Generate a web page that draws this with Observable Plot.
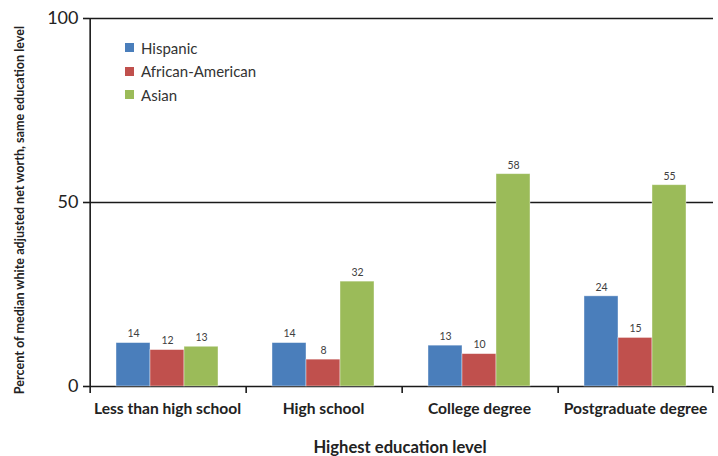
<!DOCTYPE html>
<html><head><meta charset="utf-8">
<script src="https://cdn.jsdelivr.net/npm/d3@7"></script>
<script src="https://cdn.jsdelivr.net/npm/@observablehq/plot@0.6"></script>
<style>
body{margin:0;background:#fff;font-family:Lato,"Open Sans",sans-serif}
#wrap{position:relative;width:718px;height:456px;overflow:hidden}
#legend{position:absolute;left:125px;top:36px;font-size:15px;color:#333}
#legend .row{height:23.5px;display:flex;align-items:center}
#legend .sw{width:9px;height:9px;margin-right:7px;display:inline-block}
#ytitle{position:absolute;left:19px;top:210px;transform:translate(-50%,-50%) rotate(-90deg);white-space:nowrap;font-size:12.6px;font-weight:bold;color:#222}
#xtitle{position:absolute;left:400px;top:447px;transform:translate(-50%,-50%);white-space:nowrap;font-size:16.6px;font-weight:bold;color:#222}
</style></head>
<body><div id="wrap"></div>
<script>
const categories = ["Less than high school", "High school", "College degree", "Postgraduate degree"];
const groups = ["Hispanic", "African-American", "Asian"];
const colors = ["#4a7ebb", "#c0504d", "#9bbb59"];
// bar heights as drawn
const hispanic = [11.8, 11.8, 11.1, 24.5];
const africanAmerican = [9.9, 7.3, 8.8, 13.2];
const asian = [10.8, 28.5, 57.7, 54.7];
// printed value labels
const hispanicLabels = [14, 14, 13, 24];
const africanAmericanLabels = [12, 8, 10, 15];
const asianLabels = [13, 32, 58, 55];
const yTicks = [0, 50, 100];
const yTitle = "Percent of median white adjusted net worth, same education level";
const xTitle = "Highest education level";

const series = [hispanic, africanAmerican, asian];
const labels = [hispanicLabels, africanAmericanLabels, asianLabels];
const rows = categories.flatMap((c, i) => groups.map((g, j) => ({cat: c, group: g, value: series[j][i], label: labels[j][i]})));

const W = 718, H = 456, ml = 89, mr = 5, mt = 18, mb = 70;
const band = (W - ml - mr) / categories.length;
const outer = 0.75;
const step = band / (groups.length + 2 * outer);
const toEdge = (outer + 0.5) * step;
const ink = "#1a1a1a";

const chart = Plot.plot({
  width: W, height: H,
  marginLeft: ml, marginRight: mr, marginTop: mt, marginBottom: mb,
  style: {fontFamily: "Lato, 'Open Sans', sans-serif", background: "white", color: "#222"},
  fx: {domain: categories, padding: 0, label: null},
  x: {domain: groups, paddingInner: 0, paddingOuter: outer, axis: null},
  y: {domain: [0, 100], axis: null},
  color: {domain: groups, range: colors},
  marks: [
    Plot.ruleY(yTicks, {stroke: ink, strokeWidth: 1.6}),
    Plot.barY(rows, {fx: "cat", x: "group", y: "value", fill: "group", stroke: "#ffffff", strokeOpacity: 0.5, strokeWidth: 0.8}),
    Plot.text(rows, {fx: "cat", x: "group", y: "value", text: "label", dy: -9, fontSize: 10.5, fill: "#404040"}),
    // y axis line (left edge of first facet)
    Plot.ruleX([categories[0]], {fx: d => d, x: () => groups[0], dx: -toEdge, stroke: ink, strokeWidth: 1.6, insetBottom: -7}),
    // category boundary ticks
    Plot.ruleX(categories.slice(1), {fx: d => d, x: () => groups[0], dx: -toEdge, y1: 0, y2: 0, stroke: ink, strokeWidth: 1.6, insetBottom: -7}),
    Plot.ruleX([categories[categories.length - 1]], {fx: d => d, x: () => groups[groups.length - 1], dx: toEdge, y1: 0, y2: 0, stroke: ink, strokeWidth: 1.6, insetBottom: -7}),
    Plot.axisY({ticks: yTicks, tickSize: 6, tickPadding: 5, fontSize: 18, label: null, stroke: ink, strokeWidth: 1.6}),
    Plot.axisFx({anchor: "bottom", tickSize: 0, tickPadding: 16, fontSize: 15.6, fontWeight: "bold", label: null, fill: "#222"})
  ]
});
const wrap = document.getElementById("wrap");
wrap.appendChild(chart);

const legend = document.createElement("div");
legend.id = "legend";
groups.forEach((g, i) => {
  const r = document.createElement("div"); r.className = "row";
  const s = document.createElement("span"); s.className = "sw"; s.style.background = colors[i];
  r.appendChild(s); r.appendChild(document.createTextNode(g));
  legend.appendChild(r);
});
wrap.appendChild(legend);
const yt = document.createElement("div"); yt.id = "ytitle"; yt.textContent = yTitle; wrap.appendChild(yt);
const xt = document.createElement("div"); xt.id = "xtitle"; xt.textContent = xTitle; wrap.appendChild(xt);
</script>
</body></html>
